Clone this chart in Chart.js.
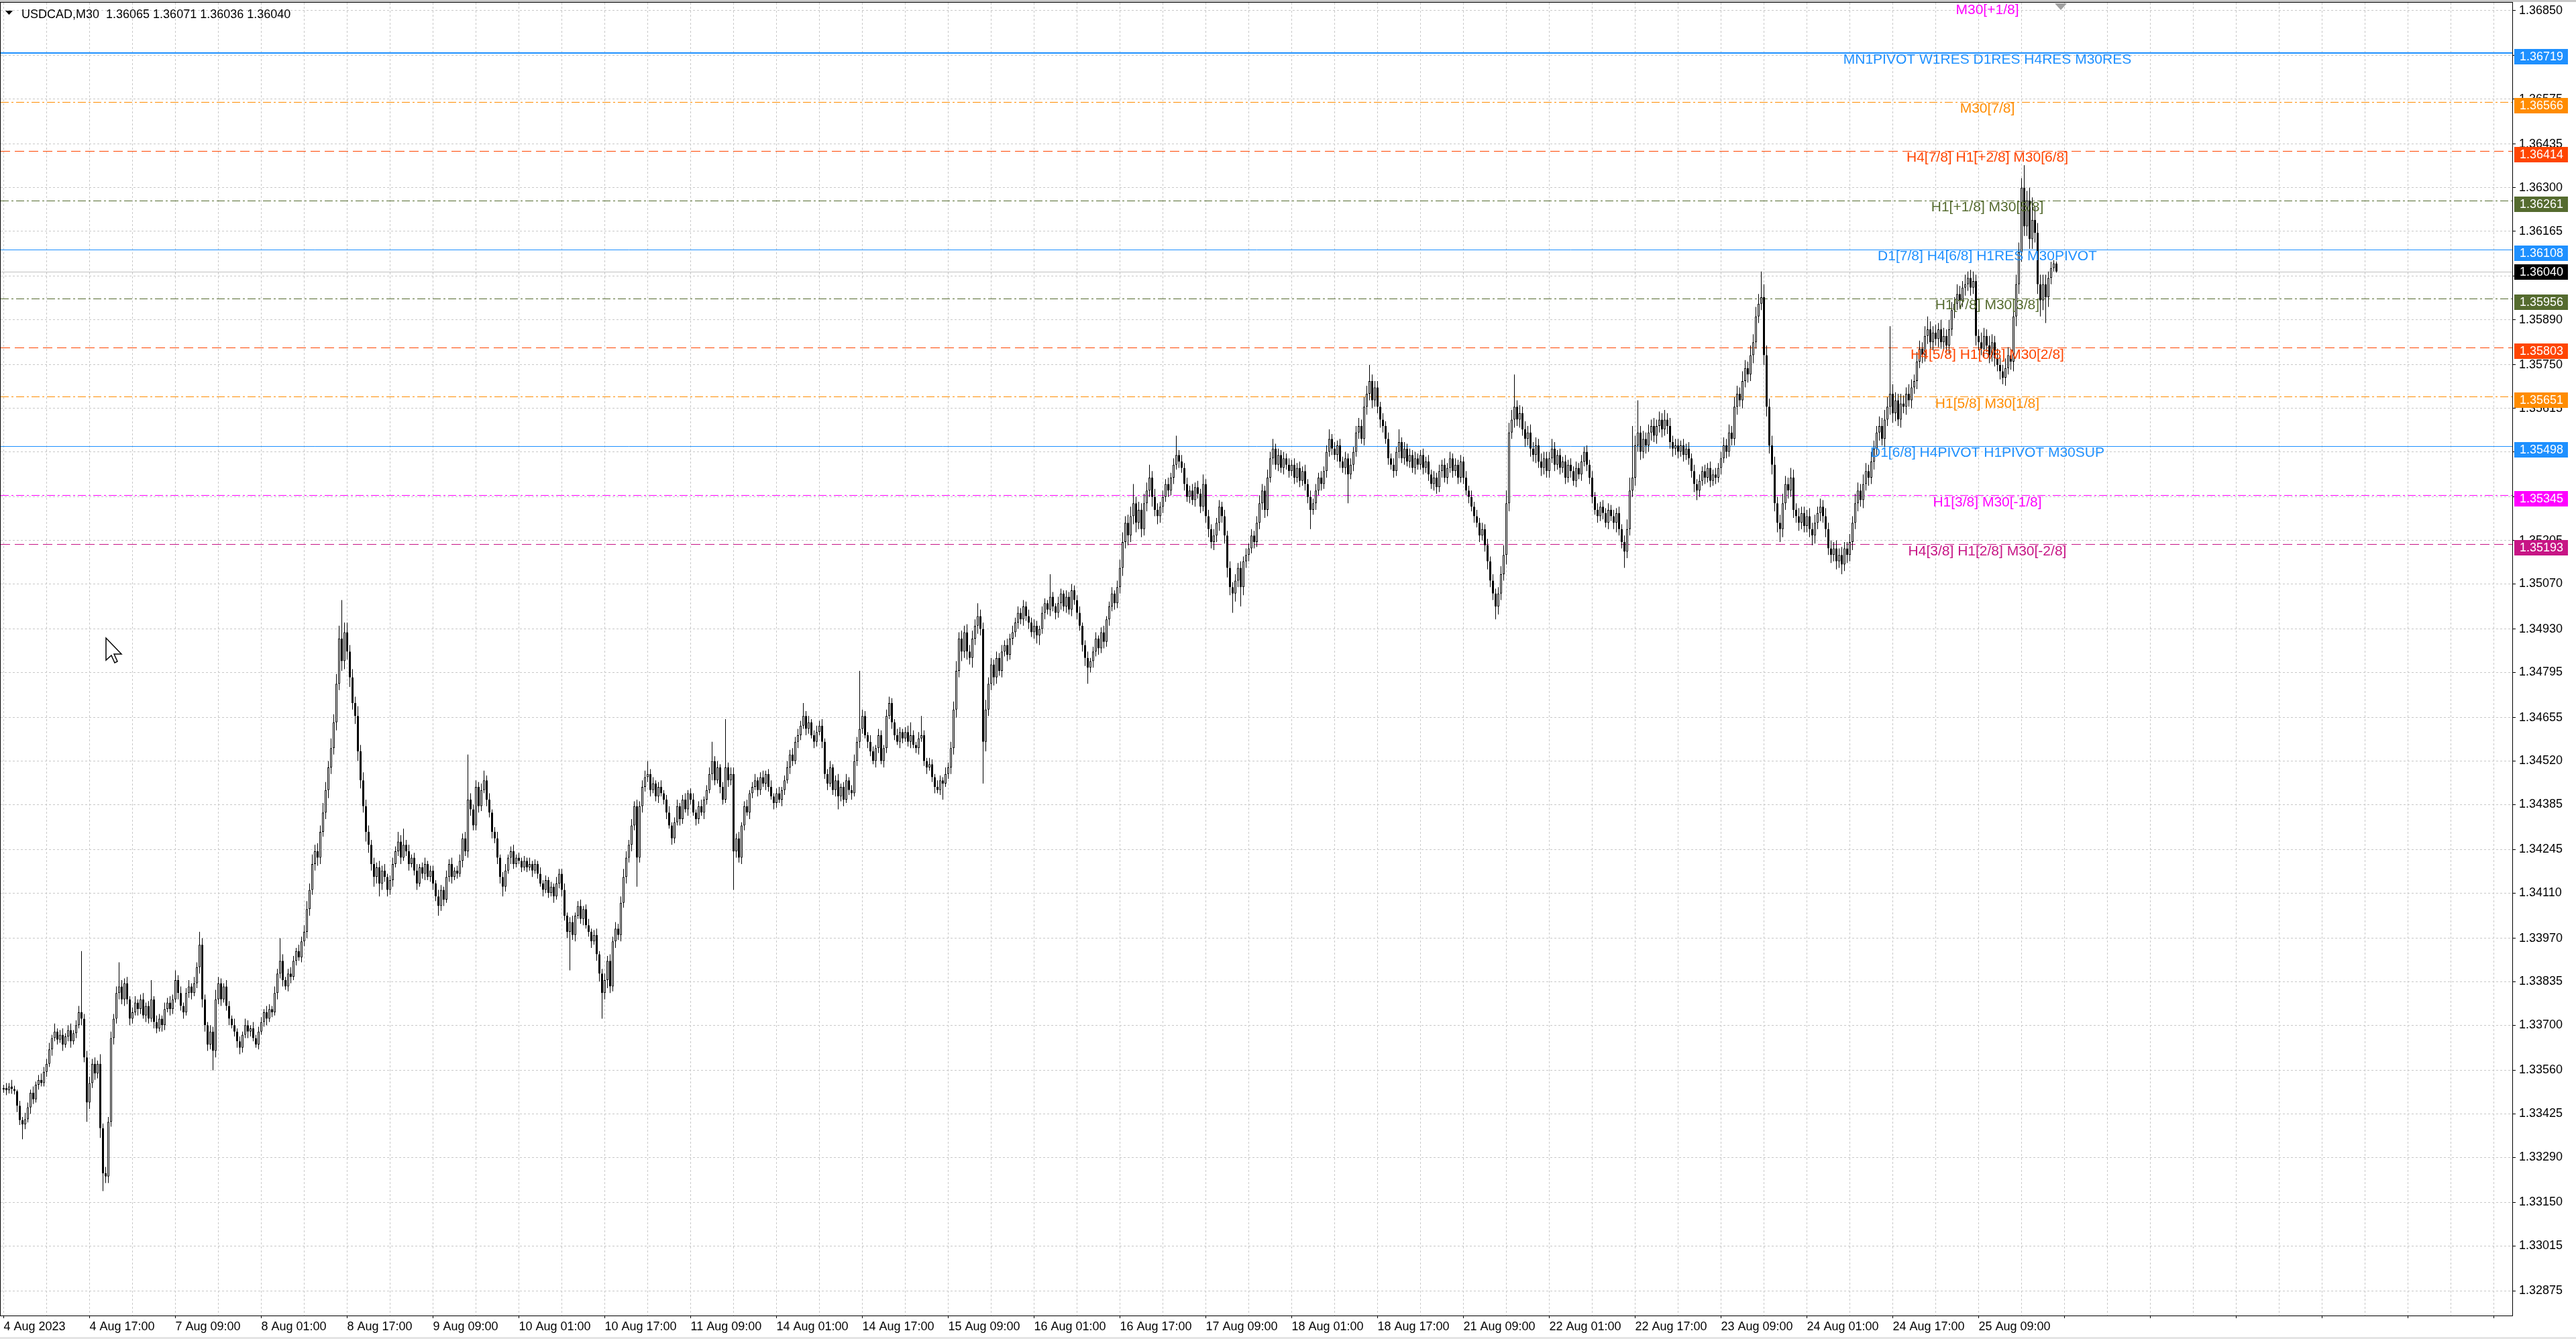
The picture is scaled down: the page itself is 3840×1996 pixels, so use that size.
<!DOCTYPE html>
<html><head><meta charset="utf-8">
<script src="https://cdn.jsdelivr.net/npm/chart.js@4.4.0/dist/chart.umd.min.js"></script>
<style>html,body{margin:0;padding:0;background:#fff;overflow:hidden}canvas{display:block}</style>
</head><body>
<canvas id="c" width="3840" height="1996" style="width:3840px;height:1996px"></canvas>
<script>
// ---------------- DATA ----------------
const SYMBOL = 'USDCAD,M30';
const PIP_BASE = 1.33;      // prices below are in pips above this base
const PIP = 0.0001;
const firstOpenPips = 50.0;
// M30 closes, 4 Aug 01:00 .. 25 Aug 23:30 (16 bars per row)
const closePips = [
50.5,49.8,51,50.2,49.5,45,40.5,39.2,40.8,44.5,49,47,51.5,53,52,55.5,
58,62.5,66,68,65.5,67,64,66.5,68.5,65,67.5,70,74,72,60,46,
52,58,55,58,38,24,23,40,66,72,80,82,78,83,78,72,
74,77,75,78,73,76,72,78,71,69,72,70,75,77,75,78,
84,80,76,74,80,82,80,83,88,95,78,70,64,68,62,78,
83,78,82,76,72,70,68,65,63,67,70,68,69,66,64,68,
71,74,72,75,74,80,86,90,84,82,86,85,90,93,91,96,
99,106,112,120,124,122,130,136,143,150,156,164,176,190,183,192,
186,178,170,166,155,146,138,130,126,120,116,119,114,118,116,112,
115,120,124,127,122,126,124,120,122,118,114,119,117,120,116,118,
114,110,107,112,109,116,120,116,118,117,121,128,124,140,137,132,
144,138,143,146,140,136,130,128,122,116,113,118,122,124,120,122,
121,119,121,119,120,118,120,117,114,112,115,111,113,110,114,117,
112,104,99,102,98,104,107,103,106,101,99,96,98,92,86,80,
84,90,82,96,100,98,108,116,122,126,132,138,122,138,144,147,
148,143,145,141,144,142,140,136,132,128,133,138,134,140,137,142,
140,136,134,138,136,140,143,148,152,146,150,144,140,150,146,148,
124,128,122,132,138,136,142,144,146,143,147,145,148,144,141,139,
142,140,143,146,150,154,152,158,160,163,166,162,164,160,158,161,
163,158,148,145,150,143,146,141,144,140,146,143,142,152,158,162,
166,160,158,155,152,156,160,152,156,166,170,164,160,158,161,159,
161,158,160,157,156,159,160,152,150,151,147,144,143,146,145,148,
150,156,168,180,190,186,192,186,184,190,194,197,193,158,168,176,
182,178,184,180,186,188,185,190,192,195,198,196,200,197,195,192,
194,191,193,198,201,199,203,200,198,201,204,200,203,199,205,202,
198,194,188,184,181,183,186,190,187,192,189,196,200,204,201,206,
212,220,226,222,228,232,226,230,224,232,236,240,234,230,228,231,
234,238,236,240,244,247,245,243,238,234,236,233,237,235,231,238,
228,224,220,222,226,231,228,222,212,206,204,208,212,206,214,216,
218,222,220,226,232,236,230,240,246,249,244,247,243,246,244,242,
244,240,243,239,242,238,234,230,232,236,240,238,242,248,252,249,
247,250,245,243,246,241,244,248,254,256,252,262,266,270,264,268,
262,258,256,252,246,244,242,248,251,246,249,245,247,243,246,244,
247,243,245,241,238,240,237,242,244,240,243,246,242,244,240,245,
240,236,234,231,228,226,222,224,219,214,208,204,200,204,210,216,
232,254,258,262,258,260,255,252,254,249,247,250,245,243,246,242,
246,249,244,247,243,245,240,244,242,239,243,241,245,248,244,240,
234,230,228,231,229,226,230,228,226,229,224,220,217,224,236,240,
250,254,248,252,250,254,256,253,256,258,255,258,256,251,249,250,
248,250,247,249,246,242,238,236,239,242,240,243,239,241,240,243,
246,250,248,254,252,262,266,264,270,274,272,278,282,290,294,296,
278,262,250,244,232,226,224,232,238,236,240,230,228,226,229,225,
228,224,222,226,229,231,228,224,218,216,218,214,216,213,218,216,
220,226,232,236,233,238,242,240,245,249,254,256,252,258,262,266,
260,264,258,263,262,266,264,268,270,276,280,278,284,286,282,285,
283,286,282,284,281,286,292,294,297,295,299,300,302,299,301,284,
282,280,284,281,278,282,277,275,273,271,274,278,276,290,300,310,
330,318,326,314,320,316,300,295,300,296,302,305,306.5,304
];
// upper wick above max(open,close), pips
const wickUpPips = [
1,1.5,1,2,1,0.5,1.5,1,2,1.5,1,2,1,1.5,2,1.5,
1.5,2,1,2.5,1,1.5,2,1,1.5,2,1,1.5,2,19,1.5,2,
2,1.5,2,1,3,1.5,2,1.5,2,1.5,2,7.5,2,1.5,2,1,
1.5,2,1,1.5,2,1,1.5,6,1,2,1.5,1,2,1.5,2,1.5,
3,1.5,2,1,1.5,2,1,2,1.5,4,2,1.5,1,2,1.5,3,
2,1.5,1,2,1.5,1,2,1,1.5,1,2,1.5,1,2,1,1.5,
1.5,1,2,1.5,1,2,1.5,7,2,1,1.5,2,1.5,1,2,1.5,
2,2.5,2,3,2,2.5,2,3,2.5,2,3,2.5,3,4,12,3,
3,2,2.5,2,3,2,2.5,2,2,1.5,2,1.5,2,1.5,2,1,
1.5,2,1.5,3,2,5,1.5,2,1,1.5,2,1,1.5,2,1,1.5,
1.5,1,2,1.5,1,2,1.5,2,1,1.5,2,1.5,2,14,2,1.5,
2,1.5,2,3,1.5,2,1,1.5,2,1,1.5,2,1,1.5,2,1,
1.5,1,1.5,1,2,1,1.5,1,2,1,1.5,1,1.5,1,2,1.5,
1.5,2,1,1.5,2,1,1.5,2,1,1.5,2,1,1.5,2,1,1.5,
2,1.5,2,1.5,2,1.5,2,2.5,2,1.5,2,1.5,2,1.5,2,2,
4,1.5,2,1,1.5,2,1,1.5,2,1,1.5,2,1,1.5,2,1,
1.5,2,1,1.5,2,1,1.5,2,6,1.5,2,1,1.5,15,1.5,2,
2,1.5,2,1,1.5,2,1,1.5,2,1,1.5,2,1,1.5,2,1,
1.5,2,1,1.5,2,1.5,2,1.5,2,1.5,4,1.5,2,1,1.5,2,
1.5,2,1,1.5,2,1,1.5,2,1,1.5,2,1,1.5,2,1.5,18,
2,1.5,1,2,1.5,1,2,1.5,1,2,2,1.5,1,2,1.5,1,
1.5,2,4,1.5,1,2,6,1.5,1,2,1.5,1,2,1.5,1,2,
1.5,2,2.5,3,2,2.5,2,2.5,2,2.5,2,4,2,2,3,2,
2,1.5,2,1.5,2,1.5,2,1.5,2,1.5,2,1.5,2,1.5,2,1.5,
2,1.5,1,2,1.5,1,7,1.5,1,2,1.5,1,2,1.5,2,1.5,
1.5,2,1,1.5,2,1,1.5,2,1,1.5,2,1,1.5,2,1,2,
2.5,3,2,2.5,3,6,2,2.5,2,3,2.5,4,2,2.5,2,1.5,
2,1.5,2,1.5,2,6,1.5,2,1.5,2,1.5,2,1.5,2,1.5,3,
1.5,2,1.5,2,1.5,2,1.5,2,1.5,2,1.5,2,1.5,2,1.5,2,
1.5,2,1.5,2,2.5,2,1.5,2.5,2,3,1.5,2,1.5,2,1.5,2,
1.5,2,1.5,2,1.5,2,1.5,2,1.5,2,1.5,2,1.5,2,3,1.5,
2,1.5,2,1.5,2,1.5,2,1.5,2,2.5,2,3,2.5,5,2,2,
2,1.5,2,1.5,2,1.5,2,1.5,4,1.5,2,1.5,2,1.5,2,1.5,
1.5,2,1.5,2,1.5,2,1.5,2,1.5,2,1.5,2,1.5,2,1.5,2,
1.5,2,1.5,2,1.5,2,1.5,2,1.5,2,1.5,2,1.5,2,2.5,3,
4,3,3,10,2,2.5,2,2.5,2,2.5,2,2.5,2,2.5,2,2,
2,3,2,1.5,2,1.5,2,1.5,2,1.5,2,1.5,2,1.5,2,1.5,
2,1.5,2,1.5,2,1.5,2,1.5,2,1.5,2,1.5,2,3,4,16,
3,10,2,2.5,2,2.5,2,2.5,2,2.5,2,3,2,2.5,2,2,
2,1.5,2,1.5,2,1.5,2,1.5,2,1.5,2,1.5,2,1.5,2,1.5,
2,2.5,2,2.5,2,3,2.5,2,3,2.5,2,3,2.5,3,3,8,
4,3,2.5,3,2.5,2,2.5,3,2.5,2,3,2.5,2,2.5,2,2,
2,2.5,2,2.5,2,2.5,2,2.5,2,2.5,2,2.5,2,2.5,2,2,
2.5,2,3,2.5,2,3,2.5,2,3,2.5,2,3,2.5,3,3,21,
3,2.5,2,3,2.5,2,3,2.5,2,3,2.5,2,3,4,2.5,2,
2.5,2,3,2.5,2,3,2.5,2,3,2.5,2,3,2,2.5,3,2,
2,3,2.5,2,3,2.5,2,3,2.5,2,3,2.5,2,3,3,3,
3,7,3,4,7,4,3,3,3,3,2,2,1,0.6
];
// lower wick below min(open,close), pips
const wickDnPips = [
1,1.5,1,1.5,1,2,1.5,4.6,1.5,1,2,1.5,1,1.5,1,1,
1.5,1,2,1,1.5,1,2,1,1.5,2,1,1.5,1,2,1.5,6,
2,1.5,2,1.5,3,5.5,2,2,1.5,2,1.5,2,1.5,2,1.5,2,
1.5,1,2,1.5,1,2,1.5,1,2,1.5,1,2,1.5,1,2,1.5,
1,2,1.5,2,1,1.5,2,1,1.5,2,2.5,2,2,1.5,6,2,
1.5,2,1,1.5,2,1,1.5,2,2,1.5,1,2,1.5,1,1,1.5,
1,1.5,2,1,1.5,1,2,1.5,2,1,1.5,2,1,1.5,1,1.5,
1.5,2,2,1.5,2,2.5,2,1.5,2,2.5,2,2,2.5,2,3,2.5,
2.5,3,2,2.5,3,2.5,2,3,2.5,2,3,2,4,2,1.5,2,
1.5,2,1,1.5,2,1,1.5,2,1,1.5,2,1,1.5,2,1,1.5,
2,1.5,3,1.5,2,1,1.5,2,1,1.5,1,2,1.5,2,2,1.5,
1.5,2,1.5,1,2,1.5,2,1.5,2,2,3,1.5,1,2,1.5,1,
1,1.5,1,1.5,1,2,1,1.5,1,2,1,1.5,1,2,1,1.5,
2,1.5,2,12,1.5,2,1,1.5,2,1,1.5,2,1,2,2.5,8,
2,2.5,2,1.5,2,1.5,2,1.5,2,1.5,2,1.5,9,1.5,2,1.5,
1.5,2,1,1.5,2,1,1.5,2,1,2,1.5,1,2,1.5,1,2,
1.5,1,2,1.5,1,2,1.5,1,2,1.5,1,2,1.5,1,2,1.5,
12,2,1.5,2,1.5,1,2,1.5,1,2,1.5,1,2,1.5,1,2,
1.5,1,2,1.5,1,2,1.5,1,2,1.5,1,2,1.5,1,2,1.5,
1,2,1.5,2,1,1.5,2,4,1.5,2,1,1.5,2,1,1.5,2,
1.5,1,2,1.5,1,2,1.5,1,2,1.5,1,2,1.5,1,2,1.5,
1,1.5,2,1,1.5,2,1,1.5,2,1,1.5,2,1,1.5,5,1,
1.5,2,2,2.5,2,3,2,2.5,2,3,2,2.5,2,13,3,2,
2,2.5,2,1.5,2,1.5,2,1.5,2,1.5,2,1.5,2,1.5,2,1.5,
2,2.5,3,1.5,2,1.5,2,1.5,2,1.5,2,1.5,2,1.5,2,1.5,
2,1.5,2,2.5,5,1.5,2,1.5,2,1.5,2,1.5,2,1.5,2,1.5,
2,2.5,2,3,2,2.5,3,2,2.5,2,2.5,2,3,2,2.5,2,
2,1.5,2,1.5,2,1.5,2,1.5,2,1.5,2,1.5,2,1.5,2,1.5,
2,2.5,2,2.5,2,2.5,2,2.5,3,2.5,6,2.5,2,6,2.5,2,
2,1.5,2,1.5,2,2,2.5,2,1.5,2,1.5,2,1.5,2,1.5,2,
1.5,2,1.5,2,1.5,2,2,6,1.5,2,1.5,2,1.5,2,1.5,2,
1.5,2,2,1.5,2,9,1.5,2,1.5,2,1.5,2,2.5,2,2.5,2,
2,2.5,2,1.5,2,1.5,2,1.5,2,1.5,2,1.5,2,1.5,2,1.5,
1.5,2,1.5,2,1.5,2,2,1.5,2,1.5,2,1.5,2,1.5,2,1.5,
2,1.5,2,1.5,2,1.5,2,1.5,2,2.5,2,2,4,2.5,2,2,
3,2.5,2,2.5,2,2.5,2,2.5,2,2.5,2,2.5,2,2.5,2,2,
2,1.5,2,1.5,2,1.5,2,1.5,2,1.5,2,1.5,2,1.5,2,2,
2,1.5,2,1.5,2,1.5,2,1.5,2,3,2,2,5,2,2,2,
2.5,2,2.5,2,2.5,2,2.5,2,2.5,2,2.5,2,2.5,2,2.5,2,
2,1.5,2,1.5,2,2,2.5,3,2,1.5,2,1.5,2,1.5,2,1.5,
2,1.5,2,1.5,2,2,2.5,2,2.5,2,2.5,2,2.5,2,2,2,
3,3,2.5,3,2.5,3,4,2.5,2,2.5,2,2.5,2,2.5,2,2,
2,2.5,3,2.5,2,2.5,2,2.5,2,2.5,2,2.5,2,3,2,2.5,
2,2.5,2,2.5,2,2.5,2,2.5,2,2.5,2,2.5,2,2.5,2,2.5,
3,2.5,2,2.5,2,2.5,2,2.5,2,2.5,2,2.5,2,2.5,2,2.5,
2,2.5,2,2.5,2,2.5,2,2.5,2,2.5,2,2.5,2,2.5,2,3,
2.5,2,2.5,2,2.5,2,2.5,2,2.5,2,2.5,2,2.5,3,3,3,
3,3,3,3,3,3,3,5,3,8,3,2,1,0.4
];
const xTickLabels = ["4 Aug 2023","4 Aug 17:00","7 Aug 09:00","8 Aug 01:00","8 Aug 17:00","9 Aug 09:00","10 Aug 01:00","10 Aug 17:00","11 Aug 09:00","14 Aug 01:00","14 Aug 17:00","15 Aug 09:00","16 Aug 01:00","16 Aug 17:00","17 Aug 09:00","18 Aug 01:00","18 Aug 17:00","21 Aug 09:00","22 Aug 01:00","22 Aug 17:00","23 Aug 09:00","24 Aug 01:00","24 Aug 17:00","25 Aug 09:00"];
const yTickLabels = ["1.36850","1.36710","1.36575","1.36435","1.36300","1.36165","1.36025","1.35890","1.35750","1.35615","1.35480","1.35340","1.35205","1.35070","1.34930","1.34795","1.34655","1.34520","1.34385","1.34245","1.34110","1.33970","1.33835","1.33700","1.33560","1.33425","1.33290","1.33150","1.33015","1.32875"];
const levelPrices = [1.36872,1.36719,1.36566,1.36414,1.36261,1.36108,1.35956,1.35803,1.35651,1.35498,1.35345,1.35193];
const levelNames = ["M30[+1/8]","MN1PIVOT W1RES D1RES H4RES M30RES","M30[7/8]","H4[7/8] H1[+2/8] M30[6/8]","H1[+1/8] M30[5/8]","D1[7/8] H4[6/8] H1RES M30PIVOT","H1[7/8] M30[3/8]","H4[5/8] H1[6/8] M30[2/8]","H1[5/8] M30[1/8]","D1[6/8] H4PIVOT H1PIVOT M30SUP","H1[3/8] M30[-1/8]","H4[3/8] H1[2/8] M30[-2/8]"];

// ---------------- STYLES ----------------
const DASHDOT = [12,4,3,4], DASH = [14,7];
const levelStyle = [
  {color:'#FF00FF', dash:DASHDOT, width:1, line:false},
  {color:'#1E90FF', dash:[], width:2, line:true},
  {color:'#FF8C00', dash:DASHDOT, width:1, line:true},
  {color:'#FF4500', dash:DASH, width:1, line:true},
  {color:'#556B2F', dash:DASHDOT, width:1, line:true},
  {color:'#1E90FF', dash:[], width:1, line:true},
  {color:'#556B2F', dash:DASHDOT, width:1, line:true},
  {color:'#FF4500', dash:DASH, width:1, line:true},
  {color:'#FF8C00', dash:DASHDOT, width:1, line:true},
  {color:'#1E90FF', dash:[], width:1, line:true},
  {color:'#FF00FF', dash:DASHDOT, width:1, line:true},
  {color:'#C71585', dash:DASH, width:1, line:true}
];
const FONT = "'Liberation Sans', Arial, sans-serif";
const GRID = '#c8c8c8';
const X_MIN = -1.125, X_MAX = 935.125;
const Y_MIN = 1.327986, Y_MAX = 1.368744;
const CAPTION_BAR = 739.25;

// ---------------- BUILD OHLC ----------------
const N = closePips.length;
const O = [], H = [], L = [], C = [];
for (let i = 0; i < N; i++) {
  const o = i === 0 ? firstOpenPips : closePips[i - 1];
  const c = closePips[i];
  const h = Math.max(o, c) + wickUpPips[i];
  const l = Math.min(o, c) - wickDnPips[i];
  O.push(+(PIP_BASE + o * PIP).toFixed(5));
  C.push(+(PIP_BASE + c * PIP).toFixed(5));
  H.push(+(PIP_BASE + h * PIP).toFixed(5));
  L.push(+(PIP_BASE + l * PIP).toFixed(5));
}
const bodyData = C.map((c, i) => ({x: i, y: [O[i], c]}));
const wickData = C.map((c, i) => ({x: i, y: [L[i], H[i]]}));
const last = N - 1;

const mt4Plugin = {
  id: 'mt4',
  beforeDatasetsDraw(chart) {
    const {ctx, chartArea: a, scales: {y}} = chart;
    ctx.save();
    ctx.beginPath(); ctx.rect(a.left, a.top, a.right - a.left, a.bottom - a.top); ctx.clip();
    levelPrices.forEach((p, k) => {
      const st = levelStyle[k]; if (!st.line) return;
      const yy = Math.round(y.getPixelForValue(p)) + (st.width % 2 ? 0.5 : 0);
      ctx.strokeStyle = st.color; ctx.lineWidth = st.width; ctx.setLineDash(st.dash);
      ctx.beginPath(); ctx.moveTo(a.left, yy); ctx.lineTo(a.right, yy); ctx.stroke();
    });
    const cy = Math.round(y.getPixelForValue(C[last])) + 0.5;
    ctx.setLineDash([]); ctx.strokeStyle = '#c0c0c0'; ctx.lineWidth = 1;
    ctx.beginPath(); ctx.moveTo(a.left, cy); ctx.lineTo(a.right, cy); ctx.stroke();
    ctx.restore();
  },
  afterDatasetsDraw(chart) {
    const {ctx, scales: {x, y}} = chart;
    ctx.save();
    ctx.font = '21px ' + FONT; ctx.textAlign = 'center'; ctx.textBaseline = 'top';
    const cx = x.getPixelForValue(CAPTION_BAR);
    levelPrices.forEach((p, k) => {
      ctx.fillStyle = levelStyle[k].color;
      ctx.fillText(levelNames[k], cx, y.getPixelForValue(p));
    });
    ctx.restore();
  },
  afterDraw(chart) {
    const {ctx, chartArea: a, scales: {y}} = chart;
    ctx.save();
    // frame
    ctx.fillStyle = '#c8c8c8'; ctx.fillRect(0, 0, 3840, 3);
    ctx.fillStyle = '#e4e4e4'; ctx.fillRect(0, 1993, 3840, 3);
    ctx.fillStyle = '#000';
    ctx.fillRect(a.left - 1, a.top - 1, a.right - a.left + 1, 1);
    ctx.fillRect(a.left - 1, a.top - 1, 1, a.bottom - a.top + 1);
    ctx.fillRect(a.right - 1, a.top - 1, 1, a.bottom - a.top + 2);
    ctx.fillRect(a.left - 1, a.bottom, a.right - a.left + 1, 1);
    // price boxes
    ctx.font = '18px ' + FONT; ctx.textBaseline = 'middle'; ctx.textAlign = 'left';
    levelPrices.forEach((p, k) => {
      if (!levelStyle[k].line) return;
      const yy = Math.round(y.getPixelForValue(p));
      ctx.fillStyle = levelStyle[k].color; ctx.fillRect(a.right + 2, yy - 6, 80, 23);
      ctx.fillStyle = '#fff'; ctx.fillText(p.toFixed(5), a.right + 10, yy + 6);
    });
    const cy = Math.round(y.getPixelForValue(C[last]));
    ctx.fillStyle = '#000'; ctx.fillRect(a.right + 2, cy - 11, 80, 23);
    ctx.fillStyle = '#fff'; ctx.fillText(C[last].toFixed(5), a.right + 10, cy + 1);
    // header
    ctx.fillStyle = '#000';
    ctx.beginPath(); ctx.moveTo(8, 16); ctx.lineTo(19, 16); ctx.lineTo(13.5, 22); ctx.closePath(); ctx.fill();
    ctx.textBaseline = 'alphabetic';
    ctx.fillText(SYMBOL + '  ' + [O[last], H[last], L[last], C[last]].map(v => v.toFixed(5)).join(' '), 32, 27);
    // chart shift marker
    ctx.fillStyle = '#a0a0a0';
    ctx.beginPath(); ctx.moveTo(3063, 5); ctx.lineTo(3081, 5); ctx.lineTo(3072, 15); ctx.closePath(); ctx.fill();
    // mouse cursor
    ctx.translate(158, 951);
    ctx.beginPath();
    ctx.moveTo(0, 0); ctx.lineTo(0, 33); ctx.lineTo(8, 26); ctx.lineTo(13, 37); ctx.lineTo(17, 35);
    ctx.lineTo(12, 24); ctx.lineTo(23, 24); ctx.closePath();
    ctx.fillStyle = '#fff'; ctx.fill();
    ctx.strokeStyle = '#000'; ctx.lineWidth = 1.5; ctx.stroke();
    ctx.restore();
  }
};

Chart.defaults.font.family = FONT;
Chart.defaults.color = '#000';

new Chart(document.getElementById('c'), {
  type: 'bar',
  data: {datasets: [
    {label: 'body', data: bodyData, grouped: false, barThickness: 3, maxBarThickness: 3,
     borderWidth: 1, borderColor: '#000', borderSkipped: false, inflateAmount: 0,
     backgroundColor: c => (C[c.dataIndex] >= O[c.dataIndex] ? '#fff' : '#000')},
    {label: 'wick', data: wickData, grouped: false, barThickness: 1, maxBarThickness: 1,
     borderWidth: 0, inflateAmount: 0, backgroundColor: '#000'}
  ]},
  options: {
    responsive: false, animation: false, devicePixelRatio: 1, events: [],
    layout: {padding: {top: 4, left: 1, right: 0, bottom: 0}},
    plugins: {legend: {display: false}, tooltip: {enabled: false}},
    scales: {
      x: {
        type: 'linear', min: X_MIN, max: X_MAX, offset: false,
        afterBuildTicks: s => { s.ticks = []; for (let v = 0; v <= X_MAX; v += 16) s.ticks.push({value: v}); },
        afterFit: s => { s.height = 35; s.paddingLeft = 0; s.paddingRight = 0; },
        grid: {color: GRID, lineWidth: 1, offset: false, drawTicks: true, tickLength: 4, tickWidth: 1,
               tickColor: c => (c.tick && c.tick.value % 32 === 0 ? '#000' : 'rgba(0,0,0,0)')},
        border: {display: false, dash: [3, 3]},
        ticks: {autoSkip: false, maxRotation: 0, minRotation: 0, align: 'start', padding: 2,
                font: {size: 18}, color: '#000',
                callback: v => (v % 32 === 0 && v / 32 < xTickLabels.length) ? xTickLabels[v / 32] : ''}
      },
      y: {
        type: 'linear', position: 'right', min: Y_MIN, max: Y_MAX,
        afterBuildTicks: s => { s.ticks = yTickLabels.map(t => ({value: parseFloat(t)})); },
        afterFit: s => { s.width = 94; s.paddingTop = 0; s.paddingBottom = 0; },
        grid: {color: GRID, lineWidth: 1, drawTicks: true, tickLength: 4, tickColor: '#000'},
        border: {display: false, dash: [3, 3]},
        ticks: {autoSkip: false, padding: 5, font: {size: 18}, color: '#000',
                callback: v => Number(v).toFixed(5)}
      }
    }
  },
  plugins: [mt4Plugin]
});
</script>
</body></html>
